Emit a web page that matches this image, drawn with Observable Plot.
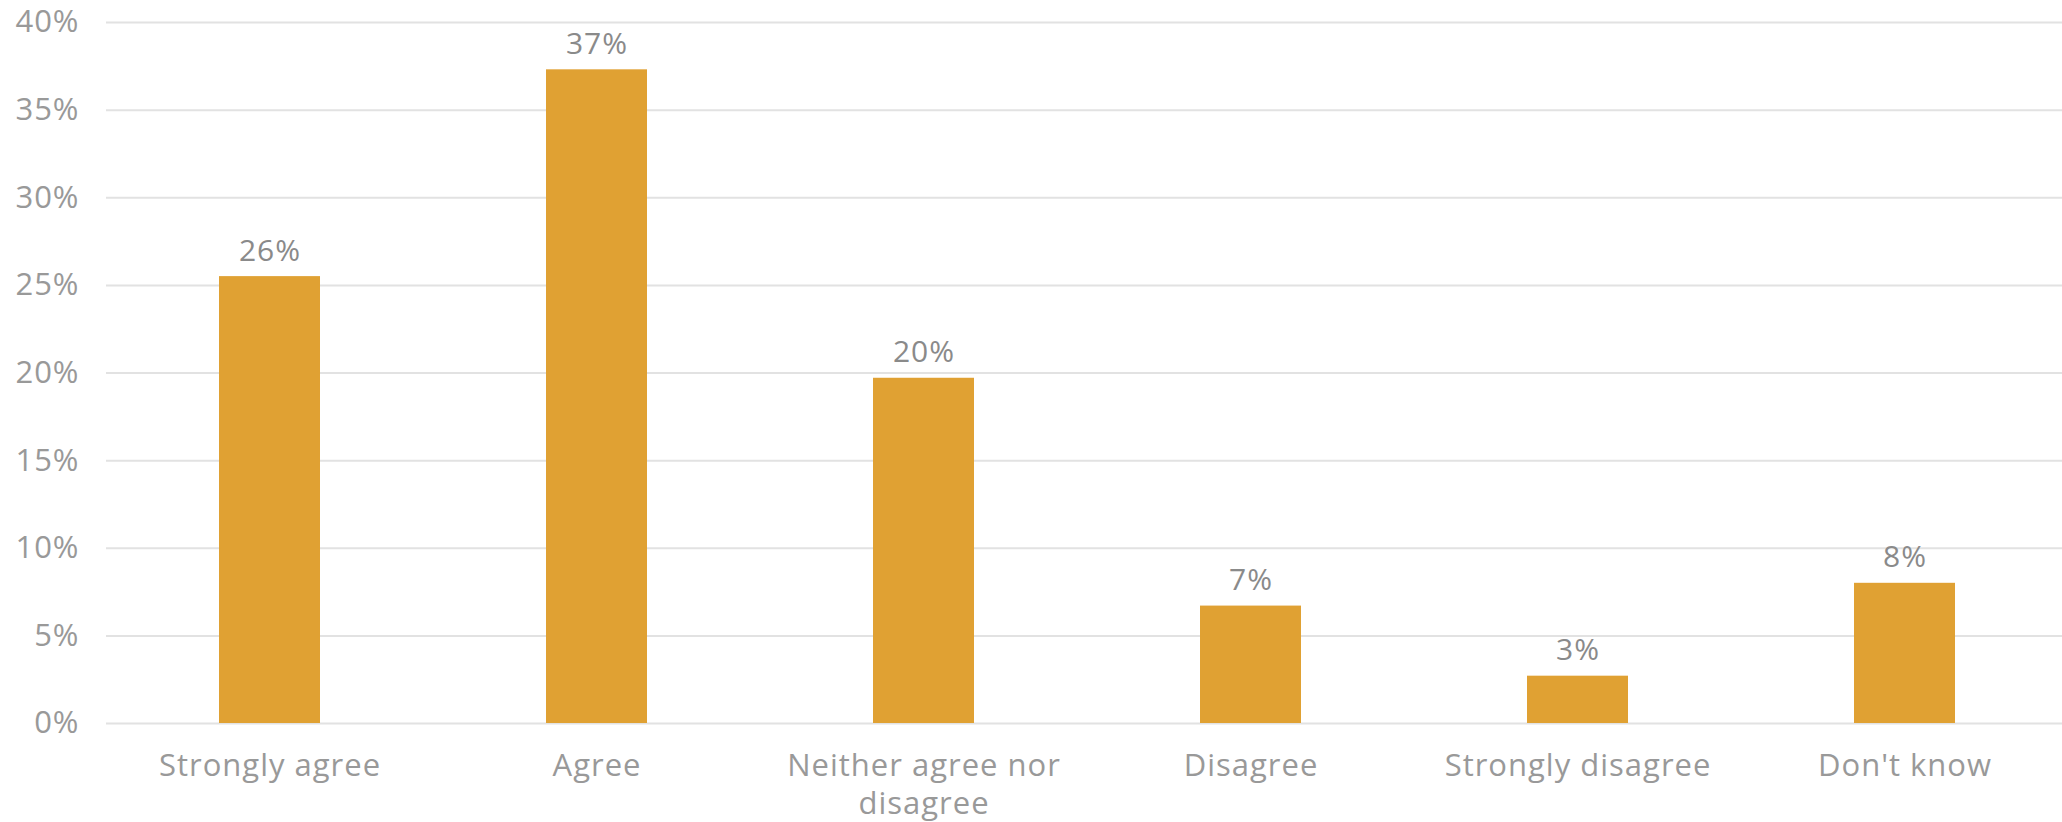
<!DOCTYPE html>
<html>
<head>
<meta charset="utf-8">
<script src="https://cdn.jsdelivr.net/npm/d3@7"></script>
<script src="https://cdn.jsdelivr.net/npm/@observablehq/plot@0.6"></script>
<style>
  html, body { margin: 0; padding: 0; background: #fff; }
  svg { display: block; }
  svg text { letter-spacing: 1px; }
</style>
</head>
<body>
<div id="chart"></div>
<script>
const categories = ["Strongly agree", "Agree", "Neither agree nor disagree", "Disagree", "Strongly disagree", "Don't know"];
const tickLabels = ["Strongly agree", "Agree", "Neither agree nor\ndisagree", "Disagree", "Strongly disagree", "Don't know"];
const values = [25.5, 37.3, 19.7, 6.7, 2.7, 8.0];
const dataLabels = ["26%", "37%", "20%", "7%", "3%", "8%"];
const yTicks = [0, 5, 10, 15, 20, 25, 30, 35, 40];

const data = categories.map((c, i) => ({category: c, value: values[i], label: dataLabels[i], tick: tickLabels[i]}));

const chart = Plot.plot({
  width: 2062,
  height: 822,
  marginLeft: 106,
  marginRight: 0,
  marginTop: 22,
  marginBottom: 99,
  style: {fontFamily: "'Open Sans', sans-serif", fontSize: "31px", color: "#999", background: "#fff"},
  x: {domain: categories, range: [106, 2068], paddingInner: 0.69, paddingOuter: 0.345, label: null},
  y: {domain: [0, 40], label: null},
  marks: [
    Plot.gridY(yTicks, {stroke: "#e2e2e2", strokeOpacity: 1, strokeWidth: 2}),
    Plot.barY(data, {x: "category", y: "value", fill: "#E0A133"}),
    Plot.text(data, {x: "category", y: "value", text: "label", dy: -16, lineAnchor: "bottom", fill: "#8a8a8a", fontSize: 30}),
    Plot.axisY({ticks: yTicks, tickSize: 0, tickPadding: 27, tickFormat: d => d + "%", fill: "#999", fontSize: 31, label: null}),
    Plot.axisX({tickSize: 0, tickPadding: 25, tickFormat: d => tickLabels[categories.indexOf(d)], lineHeight: 1.24, fill: "#999", fontSize: 31, label: null})
  ]
});
document.getElementById("chart").appendChild(chart);
</script>
</body>
</html>
